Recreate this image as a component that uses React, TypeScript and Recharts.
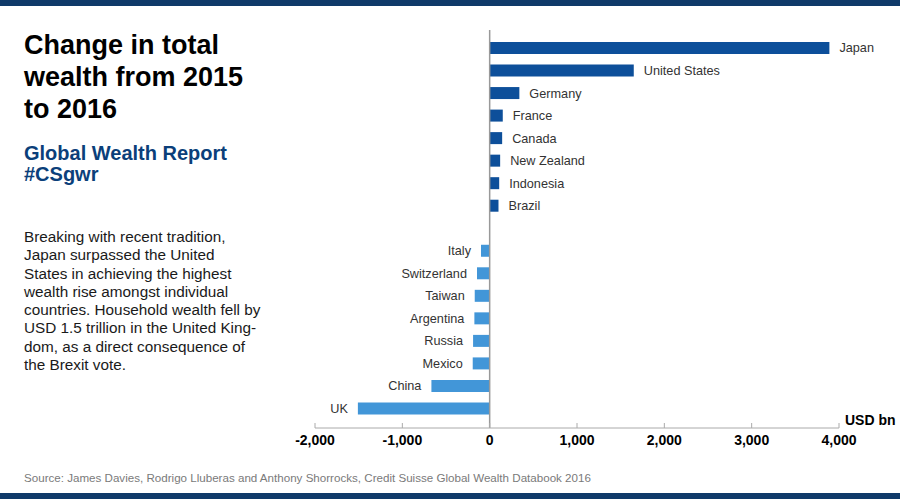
import React from "react";
import { BarChart, Bar, XAxis, YAxis, Cell, LabelList, ReferenceLine } from "recharts";

// "" is an empty slot between the risers and the fallers
const countries = [
  "Japan",
  "United States",
  "Germany",
  "France",
  "Canada",
  "New Zealand",
  "Indonesia",
  "Brazil",
  "",
  "Italy",
  "Switzerland",
  "Taiwan",
  "Argentina",
  "Russia",
  "Mexico",
  "China",
  "UK",
];

// change in total wealth, USD bn
const changes = [3890, 1650, 340, 150, 143, 120, 109, 101, null, -99, -145, -171, -175, -190, -194, -667, -1509];

const xTicks = [-2000, -1000, 0, 1000, 2000, 3000, 4000];

const noteLines = [
  "Breaking with recent tradition,",
  "Japan surpassed the United",
  "States in achieving the highest",
  "wealth rise amongst individual",
  "countries. Household wealth fell by",
  "USD 1.5 trillion in the United King-",
  "dom, as a direct consequence of",
  "the Brexit vote.",
];

const data = countries.map((name, i) => ({ name, value: changes[i] }));

const FONT = '"Liberation Sans", Arial, Helvetica, sans-serif';
const DARK = "#0d4f9a";
const LIGHT = "#4296d8";
const NAVY = "#0f3a69";

const BarLabel = (props: any) => {
  const { x, y, width, height, value } = props;
  if (!value) return null;
  const row = data.find((d) => d.name === value);
  if (!row || row.value === null) return null;
  const left = Math.min(x, x + width);
  const right = Math.max(x, x + width);
  const pos = row.value >= 0;
  return (
    <text
      x={pos ? right + 10 : left - 10}
      y={y + height / 2}
      dy="0.35em"
      textAnchor={pos ? "start" : "end"}
      fill="#333"
      fontSize={12.7}
      fontFamily={FONT}>
      {value}
    </text>
  );
};

const AxisTick = (props: any) => {
  const { x, y, payload } = props;
  const axisY = y - 7;
  return (
    <g>
      <line x1={x} x2={x} y1={axisY - 5} y2={axisY} stroke="#aaa" />
      <text x={x} y={axisY + 7} dy="0.71em" textAnchor="middle" fontSize={14} fontWeight="bold" fill="#000" fontFamily={FONT}>
        {payload.value.toLocaleString("en-US")}
      </text>
    </g>
  );
};

export default function App() {
  return (
    <div
      style={{
        position: "absolute",
        left: 0,
        top: 0,
        width: 900,
        height: 499,
        overflow: "hidden",
        background: "#fff",
        fontFamily: FONT,
      }}>
      <div style={{ position: "absolute", left: 0, top: 0, width: 900, height: 6, background: NAVY }} />
      <div style={{ position: "absolute", left: 0, top: 493, width: 900, height: 6, background: NAVY }} />

      <div
        style={{
          position: "absolute",
          left: 24,
          top: 29,
          fontSize: 27,
          lineHeight: "32px",
          fontWeight: "bold",
          color: "#000",
        }}>
        Change in total
        <br />
        wealth from 2015
        <br />
        to 2016
      </div>

      <div
        style={{
          position: "absolute",
          left: 24,
          top: 143,
          fontSize: 20,
          lineHeight: "21px",
          fontWeight: "bold",
          color: "#0b3f7a",
        }}>
        Global Wealth Report
        <br />
        #CSgwr
      </div>

      <div
        style={{
          position: "absolute",
          left: 24,
          top: 228,
          fontSize: 15.3,
          lineHeight: "18.3px",
          color: "#1a1a1a",
          whiteSpace: "nowrap",
        }}>
        {noteLines.map((l, i) => (
          <div key={i}>{l}</div>
        ))}
      </div>

      <div
        style={{
          position: "absolute",
          left: 24,
          top: 471,
          fontSize: 11.6,
          color: "#7a7a7a",
          whiteSpace: "nowrap",
        }}>
        Source: James Davies, Rodrigo Lluberas and Anthony Shorrocks, Credit Suisse Global Wealth Databook 2016
      </div>

      <div
        style={{
          position: "absolute",
          left: 845,
          top: 412,
          fontSize: 14,
          fontWeight: "bold",
          color: "#000",
          whiteSpace: "nowrap",
        }}>
        USD bn
      </div>

      <div style={{ position: "absolute", left: 0, top: 0 }}>
        <BarChart
          width={900}
          height={499}
          layout="vertical"
          data={data}
          margin={{ top: 30, right: 61, bottom: 31, left: 315 }}
          barSize={12}>
          <XAxis
            type="number"
            domain={[-2000, 4000]}
            ticks={xTicks}
            allowDataOverflow
            height={40}
            axisLine={{ stroke: "#aaa" }}
            tickLine={false}
            tickSize={4}
            tickMargin={3}
            tick={<AxisTick />}
          />
          <YAxis type="category" dataKey="name" hide padding={{ top: 7, bottom: 8 }} />
          <ReferenceLine x={0} stroke="#999" strokeWidth={1.5} />
          <Bar dataKey="value" isAnimationActive={false}>
            {data.map((d, i) => (
              <Cell key={i} fill={(d.value ?? 0) >= 0 ? DARK : LIGHT} />
            ))}
            <LabelList dataKey="name" content={<BarLabel />} />
          </Bar>
        </BarChart>
      </div>
    </div>
  );
}
